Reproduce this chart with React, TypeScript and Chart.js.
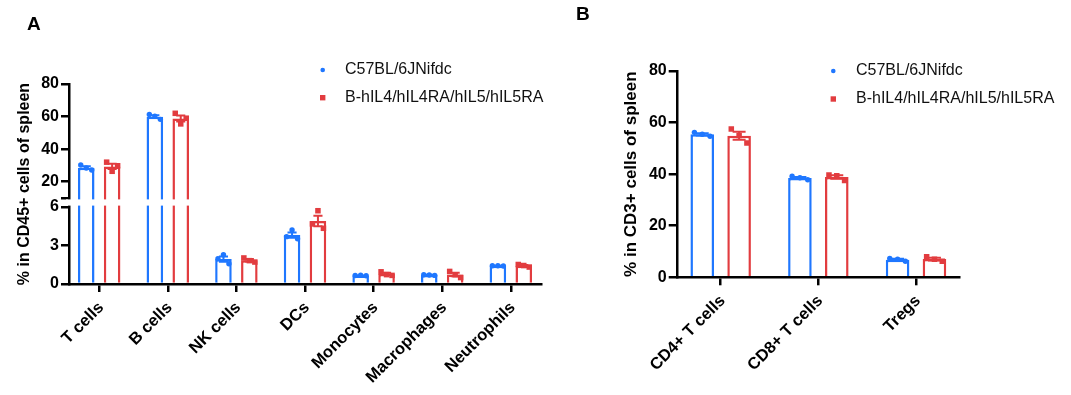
import React, { useEffect, useRef } from 'react';
import { Chart, registerables, LinearScale } from 'chart.js';

Chart.register(...registerables);

// ---------------- data ----------------
const SERIES_NAMES = ['C57BL/6JNifdc', 'B-hIL4/hIL4RA/hIL5/hIL5RA'];

const A_CATEGORIES = ['T cells', 'B cells', 'NK cells', 'DCs', 'Monocytes', 'Macrophages', 'Neutrophils'];
const A_WT = [
  [30.3, 28.4, 27.2],
  [61.3, 60.3, 58.3],
  [1.97, 2.28, 1.58],
  [3.69, 4.21, 3.53],
  [0.66, 0.68, 0.64],
  [0.72, 0.7, 0.67],
  [1.42, 1.42, 1.4],
];
const A_HU = [
  [32.0, 26.4, 29.8],
  [62.0, 55.5, 59.0],
  [2.03, 1.82, 1.71],
  [4.68, 5.71, 4.34],
  [0.95, 0.73, 0.67],
  [0.98, 0.72, 0.5],
  [1.52, 1.44, 1.32],
];
const A_Y_TICKS = [0, 3, 6, 10, 20, 40, 60, 80];
const A_Y_TITLE = '% in CD45+ cells of spleen';

const B_CATEGORIES = ['CD4+ T cells', 'CD8+ T cells', 'Tregs'];
const B_WT = [
  [56.2, 55.5, 54.7],
  [39.2, 38.6, 37.8],
  [7.3, 7.0, 6.2],
];
const B_HU = [
  [57.5, 55.0, 52.1],
  [39.7, 39.4, 37.5],
  [8.0, 7.0, 6.2],
];
const B_Y_TICKS = [0, 20, 40, 60, 80];
const B_Y_TITLE = '% in CD3+ cells of spleen';

// ---------------- styles ----------------
const BLUE = '#1f77ff';
const RED = '#e23c3f';
const FONT = '"Liberation Sans", Arial, Helvetica, sans-serif';
const CAT_PCT = 0.755;
const BAR_PCT = 0.64;
const JITTER = [-0.08, 0, 0.08];

// axis break for panel A
const BREAK_LOW = 6;
const BREAK_HIGH = 10;
const LOW_FRAC = 0.385;
const GAP_FRAC = 0.43;

class BrokenLinearScale extends LinearScale {
  static id = 'brokenLinear';
  static defaults = LinearScale.defaults;
  getPixelForValue(value: any) {
    if (value === null || value === undefined || isNaN(value)) return NaN;
    const max = this.max;
    let d;
    if (value <= BREAK_LOW) d = (value / BREAK_LOW) * LOW_FRAC;
    else if (value >= BREAK_HIGH) d = GAP_FRAC + ((value - BREAK_HIGH) / (max - BREAK_HIGH)) * (1 - GAP_FRAC);
    else d = LOW_FRAC + ((value - BREAK_LOW) / (BREAK_HIGH - BREAK_LOW)) * (GAP_FRAC - LOW_FRAC);
    return this.getPixelForDecimal(d);
  }
  getValueForPixel(pixel: number) {
    const d = this.getDecimalForPixel(pixel);
    const max = this.max;
    if (d <= LOW_FRAC) return (d / LOW_FRAC) * BREAK_LOW;
    if (d >= GAP_FRAC) return BREAK_HIGH + ((d - GAP_FRAC) / (1 - GAP_FRAC)) * (max - BREAK_HIGH);
    return BREAK_LOW + ((d - LOW_FRAC) / (GAP_FRAC - LOW_FRAC)) * (BREAK_HIGH - BREAK_LOW);
  }
}
Chart.register(BrokenLinearScale);

const mean = (a: number[]) => a.reduce((s, v) => s + v, 0) / a.length;
const sem = (a: number[]) => {
  const m = mean(a);
  const sd = Math.sqrt(a.reduce((s, v) => s + (v - m) * (v - m), 0) / (a.length - 1));
  return sd / Math.sqrt(a.length);
};

type Panel = {
  categories: string[];
  groups: number[][][];
  yTicks: number[];
  yTitle: string;
  titleSize: number;
  titlePad: number;
  broken: boolean;
  width: number;
  padLeft: number;
  padRight: number;
  padTop: number;
  yWidth: number;
  xHeight: number;
  tickLen: number;
  legend: { mx: number; tx: number; y1: number; y2: number };
  letter: { text: string; x: number; y: number };
};

const PANEL_A: Panel = {
  categories: A_CATEGORIES,
  groups: [A_WT, A_HU],
  yTicks: A_Y_TICKS,
  yTitle: A_Y_TITLE,
  titleSize: 16,
  titlePad: 15.4,
  broken: true,
  width: 560,
  padLeft: 0,
  padRight: 19,
  padTop: 84,
  yWidth: 69,
  xHeight: 111,
  tickLen: 8,
  legend: { mx: 322.7, tx: 345, y1: 70, y2: 97.7 },
  letter: { text: 'A', x: 27, y: 30 },
};

const PANEL_B: Panel = {
  categories: B_CATEGORIES,
  groups: [B_WT, B_HU],
  yTicks: B_Y_TICKS,
  yTitle: B_Y_TITLE,
  titleSize: 17,
  titlePad: 14.8,
  broken: false,
  width: 511,
  padLeft: 46.5,
  padRight: 112,
  padTop: 71,
  yWidth: 71.2,
  xHeight: 117.7,
  tickLen: 9,
  legend: { mx: 273.3, tx: 296, y1: 71, y2: 99 },
  letter: { text: 'B', x: 16, y: 20 },
};

const COLORS = [BLUE, RED];
const STYLES = ['circle', 'rect'];
const RADII = [2.7, 3.9];

function buildChart(canvas: HTMLCanvasElement, P: Panel) {
  const n = P.categories.length;
  const shift = CAT_PCT / 4;
  const datasets: any[] = [];
  P.groups.forEach((g, k) => {
    datasets.push({
      type: 'bar',
      label: SERIES_NAMES[k],
      data: g.map((vals, i) => ({ x: i, y: mean(vals) })),
      backgroundColor: '#ffffff',
      borderColor: COLORS[k],
      borderWidth: 2.5,
      borderSkipped: 'start',
      categoryPercentage: CAT_PCT,
      barPercentage: BAR_PCT,
      order: 1,
    });
  });
  P.groups.forEach((g, k) => {
    const dir = k === 0 ? -1 : 1;
    datasets.push({
      type: 'scatter',
      label: SERIES_NAMES[k] + ' points',
      data: g.flatMap((vals, i) => vals.map((v, j) => ({ x: i + dir * shift + JITTER[j], y: v }))),
      pointStyle: STYLES[k],
      pointRadius: RADII[k],
      backgroundColor: COLORS[k],
      borderColor: COLORS[k],
      borderWidth: 0,
      order: 0,
    });
  });

  const errorBars = {
    id: 'errorBars',
    afterDatasetDraw(chart: any, args: any) {
      const meta = args.meta;
      if (meta.type !== 'bar') return;
      const k = args.index;
      const g = P.groups[k];
      const ys = chart.scales.y;
      const ctx = chart.ctx;
      ctx.save();
      ctx.strokeStyle = COLORS[k];
      ctx.lineWidth = 2;
      meta.data.forEach((bar: any, i: number) => {
        const m = mean(g[i]);
        const s = sem(g[i]);
        const x = bar.x;
        const w = bar.width * 0.55;
        const yT = ys.getPixelForValue(m + s);
        const yB = ys.getPixelForValue(m - s);
        ctx.beginPath();
        ctx.moveTo(x, yT);
        ctx.lineTo(x, yB);
        ctx.moveTo(x - w / 2, yT);
        ctx.lineTo(x + w / 2, yT);
        ctx.moveTo(x - w / 2, yB);
        ctx.lineTo(x + w / 2, yB);
        ctx.stroke();
      });
      ctx.restore();
    },
  };

  const axisBreak = {
    id: 'axisBreak',
    afterDatasetsDraw(chart: any) {
      if (!P.broken) return;
      const ys = chart.scales.y;
      const a = chart.chartArea;
      const yHi = ys.getPixelForValue(BREAK_HIGH) + 1.4;
      const yLo = ys.getPixelForValue(BREAK_LOW) - 1.4;
      const ctx = chart.ctx;
      ctx.save();
      ctx.fillStyle = '#ffffff';
      ctx.fillRect(a.left - 3, yHi, a.right - a.left + 6, yLo - yHi);
      ctx.restore();
    },
  };

  const decorations = {
    id: 'decorations',
    afterDraw(chart: any) {
      const ctx = chart.ctx;
      const L = P.legend;
      ctx.save();
      ctx.fillStyle = BLUE;
      ctx.beginPath();
      ctx.arc(L.mx, L.y1, 2.3, 0, Math.PI * 2);
      ctx.fill();
      ctx.fillStyle = RED;
      ctx.fillRect(L.mx - 2.7, L.y2 - 2.7, 5.4, 5.4);
      ctx.fillStyle = '#111';
      ctx.font = `16px ${FONT}`;
      ctx.textAlign = 'left';
      ctx.textBaseline = 'middle';
      ctx.fillText(SERIES_NAMES[0], L.tx, L.y1);
      ctx.fillText(SERIES_NAMES[1], L.tx, L.y2);
      ctx.fillStyle = '#000';
      ctx.font = `bold 19px ${FONT}`;
      ctx.textBaseline = 'alphabetic';
      ctx.fillText(P.letter.text, P.letter.x, P.letter.y);
      ctx.restore();
    },
  };

  const axisGrid = (len: number) => ({
    display: true,
    drawOnChartArea: false,
    drawTicks: true,
    tickLength: len,
    color: '#000',
    lineWidth: 2.5,
  });

  return new Chart(canvas, {
    type: 'bar',
    data: { datasets },
    plugins: [errorBars, axisBreak, decorations],
    options: {
      responsive: false,
      animation: false,
      devicePixelRatio: 1,
      events: [],
      layout: { padding: { left: P.padLeft, right: P.padRight, top: P.padTop, bottom: 0 } },
      plugins: { legend: { display: false }, tooltip: { enabled: false } },
      scales: {
        x: {
          type: 'linear',
          min: -0.44,
          max: n - 1 + 0.44,
          offset: false,
          afterBuildTicks: (s: any) => {
            s.ticks = P.categories.map((_, i) => ({ value: i }));
          },
          afterFit: (s: any) => {
            s.height = P.xHeight;
          },
          ticks: {
            autoSkip: false,
            minRotation: 45,
            maxRotation: 45,
            padding: 6,
            labelOffset: 2,
            color: '#000',
            font: { family: FONT, size: 16.5, weight: 'bold' },
            callback: (v: any) => P.categories[v] ?? '',
          },
          grid: { ...axisGrid(8), offset: false },
          border: { display: true, color: '#000', width: 2.5 },
        },
        y: {
          type: P.broken ? 'brokenLinear' : 'linear',
          min: 0,
          max: 80,
          afterBuildTicks: (s: any) => {
            s.ticks = P.yTicks.map((v) => ({ value: v }));
          },
          afterFit: (s: any) => {
            s.width = P.yWidth;
          },
          ticks: {
            padding: 2,
            color: '#000',
            font: { family: FONT, size: 16, weight: 'bold' },
            callback: (v: any) => (P.broken && v === BREAK_HIGH ? '' : String(v)),
          },
          grid: axisGrid(P.tickLen),
          border: { display: true, color: '#000', width: 2.5 },
          title: {
            display: true,
            text: P.yTitle,
            color: '#000',
            font: { family: FONT, size: P.titleSize, weight: 'bold' },
            padding: { top: P.titlePad, bottom: 0 },
          },
        },
      },
    } as any,
  });
}

function PanelChart({ panel, left }: { panel: Panel; left: number }) {
  const ref = useRef<HTMLCanvasElement | null>(null);
  useEffect(() => {
    if (!ref.current) return;
    const chart = buildChart(ref.current, panel);
    return () => chart.destroy();
  }, [panel]);
  return (
    <canvas
      ref={ref}
      width={panel.width}
      height={395}
      style={{ position: 'absolute', left, top: 0, width: panel.width, height: 395 }}
    />
  );
}

export default function App() {
  return (
    <div style={{ position: 'absolute', left: 0, top: 0, width: 1071, height: 395, background: '#fff' }}>
      <PanelChart panel={PANEL_A} left={0} />
      <PanelChart panel={PANEL_B} left={560} />
    </div>
  );
}
